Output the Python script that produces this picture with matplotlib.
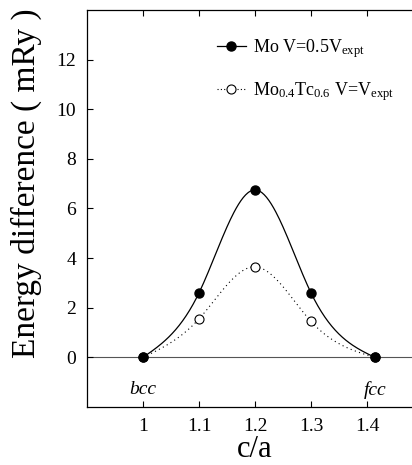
import numpy as np
import matplotlib
matplotlib.use("Agg")
import matplotlib.pyplot as plt

plt.rcParams['font.family'] = ['Liberation Serif', 'DejaVu Serif']
plt.rcParams['mathtext.fontset'] = 'custom'
plt.rcParams['mathtext.rm'] = 'Liberation Serif'
plt.rcParams['mathtext.it'] = 'Liberation Serif:italic'

# data
c_over_a = [1.0, 1.1, 1.2, 1.3, np.sqrt(2)]
mo_half = [0.0, 2.6, 6.75, 2.6, 0.0]
mo_tc = [0.0, 1.55, 3.65, 1.45, 0.0]
x_ticks = [1, 1.1, 1.2, 1.3, 1.4]
y_ticks = [0, 2, 4, 6, 8, 10, 12]
labels = [r'Mo V=0.5V$_{\rm expt}$', r'Mo$_{0.4}$Tc$_{0.6}$ V=V$_{\rm expt}$']


def natural_spline(x, y, n=200):
    # natural cubic spline through the points
    x = np.asarray(x, float)
    y = np.asarray(y, float)
    m = len(x)
    h = np.diff(x)
    A = np.zeros((m, m))
    b = np.zeros(m)
    A[0, 0] = 1
    A[-1, -1] = 1
    for i in range(1, m - 1):
        A[i, i - 1] = h[i - 1]
        A[i, i] = 2 * (h[i - 1] + h[i])
        A[i, i + 1] = h[i]
        b[i] = 6 * ((y[i + 1] - y[i]) / h[i] - (y[i] - y[i - 1]) / h[i - 1])
    M = np.linalg.solve(A, b)
    xs = np.linspace(x[0], x[-1], n)
    k = np.clip(np.searchsorted(x, xs) - 1, 0, m - 2)
    t1 = x[k + 1] - xs
    t0 = xs - x[k]
    hk = h[k]
    ys = (M[k] * t1**3 + M[k + 1] * t0**3) / (6 * hk) \
        + (y[k] / hk - M[k] * hk / 6) * t1 + (y[k + 1] / hk - M[k + 1] * hk / 6) * t0
    return xs, ys


fig = plt.figure(figsize=(4.12, 4.65), dpi=100)
ax = fig.add_axes([87 / 412, 1 - 407 / 465, 336 / 412, 397 / 465])

ax.axhline(0, color='#555555', lw=0.8, zorder=1)

xs, ys = natural_spline(c_over_a, mo_tc)
ax.plot(xs, ys, ls=(0, (1, 3)), color='black', lw=0.8)
ax.plot(c_over_a, mo_tc, 'o', mfc='white', mec='black', ms=6.5, mew=0.8)

xs, ys = natural_spline(c_over_a, mo_half)
ax.plot(xs, ys, '-', color='black', lw=0.9)
ax.plot(c_over_a, mo_half, 'o', color='black', ms=6.5)

h1, = ax.plot([], [], '-o', color='black', lw=0.9, ms=6.5)
h2, = ax.plot([], [], 'o', ls=(0, (1, 2)), color='black', mfc='white', lw=0.8, ms=6.5, mew=0.8)
ax.legend([h1, h2], labels, loc='upper left', bbox_to_anchor=(208 / 412, 1 - 28 / 465),
          bbox_transform=fig.transFigure, frameon=False, fontsize=13,
          handlelength=1.6, handletextpad=0.4, labelspacing=1.1, borderpad=0)

ax.text(c_over_a[0], -1.3, 'bcc', style='italic', fontsize=14, ha='center', va='center')
ax.text(c_over_a[-1], -1.3, 'fcc', style='italic', fontsize=14, ha='center', va='center')

ax.set_xlim(0.9, 1.5)
ax.set_ylim(-2, 14)
ax.set_xticks(x_ticks)
ax.set_xticklabels(['1', '1.1', '1.2', '1.3', '1.4'])
ax.set_yticks(y_ticks)
ax.tick_params(direction='in', length=4, width=0.8, labelsize=14, top=True, pad=8)
ax.spines['right'].set_visible(False)
for s in ['left', 'top', 'bottom']:
    ax.spines[s].set_linewidth(0.9)

ax.set_xlabel('c/a', fontsize=22, labelpad=0)
ax.set_ylabel('Energy difference ( mRy )', fontsize=24)
ax.yaxis.set_label_coords(-0.135, 0.565)

fig.savefig('out.png', dpi=100)
